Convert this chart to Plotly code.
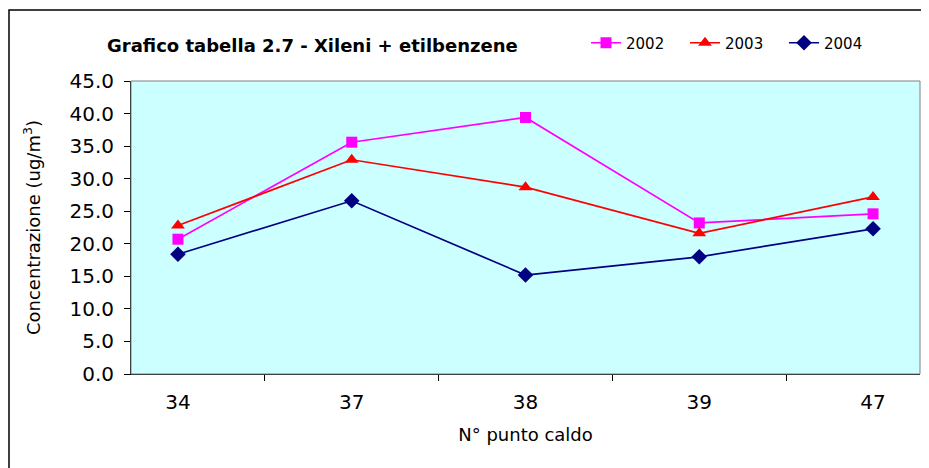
import plotly.graph_objects as go

# Punti caldi (categorie asse x)
punti = ["34", "37", "38", "39", "47"]

# Concentrazione xileni + etilbenzene (ug/m3) per anno
val_2002 = [20.7, 35.6, 39.4, 23.2, 24.6]
val_2003 = [22.8, 32.9, 28.7, 21.6, 27.2]
val_2004 = [18.4, 26.6, 15.2, 18.0, 22.3]

y_ticks = [0, 5, 10, 15, 20, 25, 30, 35, 40, 45]

series = [
    ("2002", val_2002, "#FF00FF", "square", 11),
    ("2003", val_2003, "#FF0000", "triangle-up", 12),
    ("2004", val_2004, "#000080", "diamond", 12),
]

FONT = "DejaVu Sans, Arial, sans-serif"
OFF = 8  # la pagina html aggiunge 8px di margine al body

W, H = 929, 468
plot_l, plot_r, plot_t, plot_b = 131 - OFF, 920 - OFF, 81 - OFF, 374 - OFF
pw, ph = plot_r - plot_l, plot_b - plot_t

fig = go.Figure()
for name, vals, color, symbol, size in series:
    fig.add_trace(
        go.Scatter(
            x=punti,
            y=vals,
            name=name,
            mode="lines+markers",
            line=dict(color=color, width=1.7),
            marker=dict(symbol=symbol, size=size, color=color),
        )
    )

fig.update_layout(
    width=W,
    height=H,
    margin=dict(l=plot_l, r=W - plot_r, t=plot_t, b=H - plot_b),
    paper_bgcolor="white",
    plot_bgcolor="#CCFFFF",
    font=dict(family=FONT, size=18, color="black"),
    title=dict(
        text="<b>Grafico tabella 2.7 - Xileni + etilbenzene</b>",
        font=dict(size=18),
        x=(107 - OFF) / W,
        xanchor="left",
        xref="container",
        y=1 - (46 - OFF) / H,
        yanchor="middle",
        yref="container",
    ),
    legend=dict(
        orientation="h",
        xref="container",
        yref="container",
        x=(586 - OFF) / W,
        y=1 - (43 - OFF) / H,
        xanchor="left",
        yanchor="middle",
        font=dict(size=15),
        bgcolor="rgba(0,0,0,0)",
        entrywidth=54,
        entrywidthmode="pixels",
    ),
    showlegend=True,
)

fig.update_xaxes(
    type="category",
    automargin=False,
    showline=True,
    linecolor="black",
    linewidth=1,
    ticks="outside",
    tickson="boundaries",
    ticklen=6,
    tickcolor="black",
    showgrid=False,
    ticklabelstandoff=10,
    title=dict(text="N° punto caldo", standoff=15, font=dict(size=18)),
    tickfont=dict(size=20),
)
fig.update_yaxes(
    range=[0, 45],
    automargin=False,
    tickvals=y_ticks,
    tickformat=".1f",
    showline=True,
    linecolor="black",
    linewidth=1,
    ticks="outside",
    ticklen=6,
    tickcolor="black",
    showgrid=False,
    zeroline=False,
    ticklabelstandoff=6,
    title=dict(text="Concentrazione (ug/m<sup>3</sup>)", standoff=24, font=dict(size=18)),
    tickfont=dict(size=20),
)

# Bordo grigio dell'area del grafico e cornice esterna
fig.add_shape(type="rect", xref="paper", yref="paper", x0=0, y0=0, x1=1, y1=1,
              line=dict(color="#808080", width=1), layer="above")
fig.add_shape(type="rect", xref="paper", yref="paper",
              x0=(1 - plot_l) / pw, y0=(plot_b - 480) / ph,
              x1=(945 - plot_l) / pw, y1=(plot_b - (10 - OFF)) / ph,
              line=dict(color="black", width=1.5))

fig.write_html("out.html")
